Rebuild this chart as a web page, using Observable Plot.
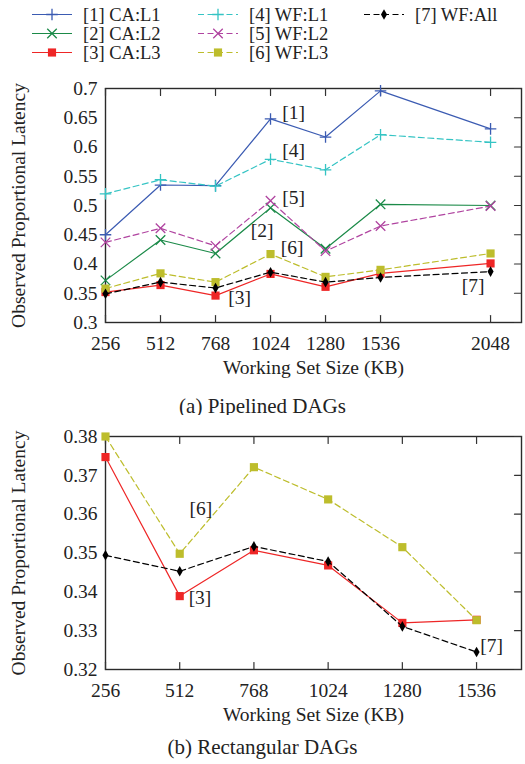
<!DOCTYPE html>
<html><head><meta charset="utf-8">
<script src="https://cdn.jsdelivr.net/npm/d3@7"></script>
<script src="https://cdn.jsdelivr.net/npm/@observablehq/plot@0.6"></script>
<style>
body{margin:0;width:525px;height:764px;position:relative;background:#fff;font-family:"Liberation Serif",serif;color:#222;overflow:hidden}
.abs{position:absolute;left:0}
.cap{position:absolute;width:525px;text-align:center;font-size:21px;line-height:24px;color:#222}
</style></head>
<body>
<div id="legend" class="abs" style="top:0"></div>
<div id="chartA" class="abs" style="top:70px"></div>
<div class="cap" style="left:0;top:394px">(a) Pipelined DAGs</div>
<div id="chartB" class="abs" style="top:415px"></div>
<div class="cap" style="left:0;top:735px">(b) Rectangular DAGs</div>
<script>
// ---------- data ----------
const seriesNames = ["[1] CA:L1","[2] CA:L2","[3] CA:L3","[4] WF:L1","[5] WF:L2","[6] WF:L3","[7] WF:All"];

// (a) Pipelined DAGs
const sizesA = [256, 512, 768, 1024, 1280, 1536, 2048];
const caL1 = [0.450, 0.535, 0.534, 0.648, 0.617, 0.696, 0.631];
const caL2 = [0.372, 0.441, 0.418, 0.496, 0.426, 0.502, 0.500];
const caL3 = [0.352, 0.364, 0.346, 0.383, 0.361, 0.384, 0.401];
const wfL1 = [0.520, 0.544, 0.533, 0.579, 0.561, 0.621, 0.608];
const wfL2 = [0.437, 0.461, 0.431, 0.508, 0.422, 0.465, 0.499];
const wfL3 = [0.358, 0.384, 0.369, 0.417, 0.378, 0.390, 0.418];
const wfAll = [0.349, 0.369, 0.359, 0.386, 0.369, 0.377, 0.387];
const yTicksA = [0.3, 0.35, 0.4, 0.45, 0.5, 0.55, 0.6, 0.65, 0.7];
const notesA = [
  {t:"[1]", x:1131, y:0.658}, {t:"[4]", x:1131, y:0.594}, {t:"[5]", x:1131, y:0.514},
  {t:"[2]", x:985, y:0.457}, {t:"[6]", x:1125, y:0.4275}, {t:"[3]", x:880, y:0.342},
  {t:"[7]", x:1967, y:0.363}
];

// (b) Rectangular DAGs
const sizesB = [256, 512, 768, 1024, 1280, 1536];
const bCaL3 = [0.3747, 0.3389, 0.3507, 0.3468, 0.3320, 0.3328];
const bWfL3 = [0.3800, 0.3498, 0.3721, 0.3638, 0.3515, 0.3327];
const bWfAll = [0.3494, 0.3453, 0.3517, 0.3478, 0.3311, 0.3245];
const yTicksB = [0.32, 0.33, 0.34, 0.35, 0.36, 0.37, 0.38];
const notesB = [
  {t:"[6]", x:585, y:0.3614}, {t:"[3]", x:582, y:0.3385}, {t:"[7]", x:1588, y:0.326}
];

// ---------- styles ----------
const seriesColors = ["#3b5bb2","#1b8a48","#ee2626","#35c4c4","#b044a0","#bdbd2c","#000000"];
const seriesDash = [null, null, null, "6,3.5", "6,3.5", "6,3.5", "6,3.5"];
const seriesSymbols = ["plus","times","square","plus","times","square","diamond"];
const symbolR = {plus: 3.8, times: 4.4, square: 4.6, diamond: 3.2};
const filledSym = s => s === "square" || s === "diamond";
const FONT = "Liberation Serif";
const INK = "#222";

const tickShape = {draw(context, l) { context.moveTo(0, 0); context.lineTo(0, -l); }};

function makeChart({sizes, series, idx, xDomain, yDomain, yTicks, yFmt, notes, height, marginTop, marginBottom}) {
  const marks = [];
  marks.push(Plot.frame({stroke: "#2a2a2a", strokeWidth: 1.4}));
  marks.push(Plot.vector(sizes, {x: d => d, frameAnchor: "bottom", rotate: 0, length: 7, anchor: "start", shape: tickShape, stroke: "#333", strokeWidth: 1.2}));
  marks.push(Plot.vector(sizes, {x: d => d, frameAnchor: "top", rotate: 180, length: 7, anchor: "start", shape: tickShape, stroke: "#333", strokeWidth: 1.2}));
  marks.push(Plot.vector(yTicks, {y: d => d, frameAnchor: "right", rotate: -90, length: 7, anchor: "start", shape: tickShape, stroke: "#333", strokeWidth: 1.2}));
  series.forEach((vals, j) => {
    const k = idx[j];
    const rows = vals.map((v, i) => ({x: sizes[i], y: v}));
    const col = seriesColors[k];
    marks.push(Plot.line(rows, {x: "x", y: "y", stroke: col, strokeWidth: 1.2, strokeDasharray: seriesDash[k]}));
    const sym = seriesSymbols[k];
    if (filledSym(sym)) {
      marks.push(Plot.dot(rows, {x: "x", y: "y", symbol: sym, r: symbolR[sym], fill: col, stroke: "none"}));
    } else {
      marks.push(Plot.dot(rows, {x: "x", y: "y", symbol: sym, r: symbolR[sym], fill: "none", stroke: col, strokeWidth: 1.3}));
    }
  });
  marks.push(Plot.text(notes, {x: "x", y: "y", text: "t", fill: INK, fontSize: 19.5}));
  marks.push(Plot.axisX(sizes, {tickSize: 0, tickPadding: 14, tickFormat: d => String(d), fill: INK, fontSize: 19.5,
    label: "Working Set Size (KB)", labelAnchor: "center", labelArrow: "none", labelOffset: 51}));
  marks.push(Plot.axisY(yTicks, {tickSize: 0, tickPadding: 8, tickFormat: yFmt, fill: INK, fontSize: 19.5,
    label: "Observed Proportional Latency", labelAnchor: "center", labelArrow: "none", labelOffset: 94}));
  return Plot.plot({
    width: 525, height, marginLeft: 105, marginRight: 4, marginTop, marginBottom,
    style: {fontFamily: FONT, fontSize: "19.5px", color: INK, background: "white", overflow: "visible"},
    x: {type: "linear", domain: xDomain},
    y: {type: "linear", domain: yDomain},
    marks
  });
}

const fmt = d => String(+d.toFixed(2));

document.getElementById("chartA").appendChild(makeChart({
  sizes: sizesA, series: [caL1, caL2, caL3, wfL1, wfL2, wfL3, wfAll], idx: [0,1,2,3,4,5,6],
  xDomain: [256, 2192], yDomain: [0.3, 0.7], yTicks: yTicksA, yFmt: fmt, notes: notesA,
  height: 310, marginTop: 18, marginBottom: 58
}));

document.getElementById("chartB").appendChild(makeChart({
  sizes: sizesB, series: [bCaL3, bWfL3, bWfAll], idx: [2,5,6],
  xDomain: [256, 1691], yDomain: [0.32, 0.38], yTicks: yTicksB, yFmt: fmt, notes: notesB,
  height: 310, marginTop: 21, marginBottom: 56
}));

// ---------- legend ----------
const legendPos = [
  {k:0, col:0, row:0}, {k:1, col:0, row:1}, {k:2, col:0, row:2},
  {k:3, col:1, row:0}, {k:4, col:1, row:1}, {k:5, col:1, row:2},
  {k:6, col:2, row:0}
];
const colX = [32, 198, 364];
const rowY = [14.5, 33.5, 52.5];
const lsvg = d3.select("#legend").append("svg").attr("width", 525).attr("height", 68)
  .style("font-family", FONT).style("font-size", "18.5px");
legendPos.forEach(({k, col, row}) => {
  const x0 = colX[col], y = rowY[row];
  const g = lsvg.append("g");
  g.append("line").attr("x1", x0).attr("x2", x0 + 40).attr("y1", y).attr("y2", y)
    .attr("stroke", seriesColors[k]).attr("stroke-width", 1.2)
    .attr("stroke-dasharray", seriesDash[k]);
  const sym = seriesSymbols[k];
  const d3sym = {plus: d3.symbolPlus, times: d3.symbolTimes, square: d3.symbolSquare, diamond: d3.symbolDiamond}[sym];
  const r = symbolR[sym];
  const p = g.append("path").attr("transform", `translate(${x0 + 20},${y})`)
    .attr("d", d3.symbol(d3sym, r * r * Math.PI)());
  if (filledSym(sym)) p.attr("fill", seriesColors[k]);
  else p.attr("fill", "none").attr("stroke", seriesColors[k]).attr("stroke-width", 1.3);
  g.append("text").attr("x", x0 + 51).attr("y", y).attr("dy", "0.35em")
    .attr("fill", INK).text(seriesNames[k]);
});
</script>
</body></html>
